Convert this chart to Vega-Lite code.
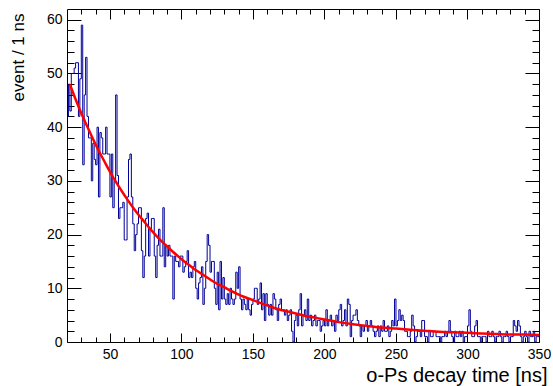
{
"$schema": "https://vega.github.io/schema/vega-lite/v6.json",
"width": 472, "height": 333,
"autosize": {"type": "none"},
"padding": {"left": 67, "top": 9, "right": 14, "bottom": 44},
"background": "white",
"config": {
  "view": {"stroke": "black", "strokeWidth": 1},
  "axis": {"grid": false, "domain": false, "labelFont": "Liberation Sans", "labelFontSize": 14, "labelColor": "black", "tickColor": "black", "tickWidth": 1, "titleFont": "Liberation Sans", "titleFontWeight": "normal", "titleColor": "black", "labelFlush": false, "labelOverlap": false}
},
"datasets": {
"hist": [
{"t":20,"n":42},{"t":21,"n":48},{"t":22,"n":43},{"t":23,"n":50},{"t":24,"n":50},{"t":25,"n":51},{"t":26,"n":52},{"t":27,"n":52},{"t":28,"n":42},{"t":29,"n":49},
{"t":30,"n":59},{"t":31,"n":33},{"t":32,"n":46},{"t":33,"n":53},{"t":34,"n":42},{"t":35,"n":38},{"t":36,"n":38},{"t":37,"n":30},{"t":38,"n":37},{"t":39,"n":34},
{"t":40,"n":33},{"t":41,"n":40},{"t":42,"n":27},{"t":43,"n":39},{"t":44,"n":38},{"t":45,"n":35},{"t":46,"n":35},{"t":47,"n":40},{"t":48,"n":35},{"t":49,"n":35},
{"t":50,"n":27},{"t":51,"n":35},{"t":52,"n":25},{"t":53,"n":30},{"t":54,"n":46},{"t":55,"n":31},{"t":56,"n":23},{"t":57,"n":25},{"t":58,"n":25},{"t":59,"n":26},
{"t":60,"n":19},{"t":61,"n":19},{"t":62,"n":27},{"t":63,"n":34},{"t":64,"n":35},{"t":65,"n":27},{"t":66,"n":22},{"t":67,"n":17},{"t":68,"n":20},{"t":69,"n":22},
{"t":70,"n":25},{"t":71,"n":25},{"t":72,"n":17},{"t":73,"n":12},{"t":74,"n":16},{"t":75,"n":23},{"t":76,"n":24},{"t":77,"n":16},{"t":78,"n":21},{"t":79,"n":23},
{"t":80,"n":23},{"t":81,"n":16},{"t":82,"n":12},{"t":83,"n":18},{"t":84,"n":21},{"t":85,"n":16},{"t":86,"n":16},{"t":87,"n":25},{"t":88,"n":14},{"t":89,"n":18},
{"t":90,"n":16},{"t":91,"n":18},{"t":92,"n":16},{"t":93,"n":16},{"t":94,"n":8},{"t":95,"n":16},{"t":96,"n":15},{"t":97,"n":15},{"t":98,"n":14},{"t":99,"n":16},
{"t":100,"n":16},{"t":101,"n":13},{"t":102,"n":14},{"t":103,"n":15},{"t":104,"n":17},{"t":105,"n":12},{"t":106,"n":13},{"t":107,"n":12},{"t":108,"n":14},{"t":109,"n":15},
{"t":110,"n":10},{"t":111,"n":8},{"t":112,"n":11},{"t":113,"n":12},{"t":114,"n":14},{"t":115,"n":7},{"t":116,"n":10},{"t":117,"n":15},{"t":118,"n":20},{"t":119,"n":18},
{"t":120,"n":13},{"t":121,"n":15},{"t":122,"n":15},{"t":123,"n":10},{"t":124,"n":7},{"t":125,"n":13},{"t":126,"n":6},{"t":127,"n":15},{"t":128,"n":8},{"t":129,"n":12},
{"t":130,"n":8},{"t":131,"n":7},{"t":132,"n":9},{"t":133,"n":7},{"t":134,"n":10},{"t":135,"n":8},{"t":136,"n":7},{"t":137,"n":8},{"t":138,"n":13},{"t":139,"n":10},
{"t":140,"n":14},{"t":141,"n":8},{"t":142,"n":6},{"t":143,"n":8},{"t":144,"n":7},{"t":145,"n":6},{"t":146,"n":8},{"t":147,"n":6},{"t":148,"n":5},{"t":149,"n":7},
{"t":150,"n":8},{"t":151,"n":10},{"t":152,"n":10},{"t":153,"n":7},{"t":154,"n":8},{"t":155,"n":11},{"t":156,"n":6},{"t":157,"n":9},{"t":158,"n":4},{"t":159,"n":9},
{"t":160,"n":7},{"t":161,"n":5},{"t":162,"n":7},{"t":163,"n":5},{"t":164,"n":9},{"t":165,"n":8},{"t":166,"n":6},{"t":167,"n":4},{"t":168,"n":7},{"t":169,"n":8},
{"t":170,"n":6},{"t":171,"n":6},{"t":172,"n":5},{"t":173,"n":6},{"t":174,"n":4},{"t":175,"n":5},{"t":176,"n":6},{"t":177,"n":2},{"t":178,"n":0},{"t":179,"n":4},
{"t":180,"n":5},{"t":181,"n":3},{"t":182,"n":6},{"t":183,"n":9},{"t":184,"n":3},{"t":185,"n":5},{"t":186,"n":6},{"t":187,"n":4},{"t":188,"n":8},{"t":189,"n":4},
{"t":190,"n":5},{"t":191,"n":3},{"t":192,"n":4},{"t":193,"n":5},{"t":194,"n":3},{"t":195,"n":4},{"t":196,"n":4},{"t":197,"n":2},{"t":198,"n":3},{"t":199,"n":4},
{"t":200,"n":3},{"t":201,"n":6},{"t":202,"n":3},{"t":203,"n":4},{"t":204,"n":5},{"t":205,"n":3},{"t":206,"n":4},{"t":207,"n":2},{"t":208,"n":5},{"t":209,"n":4},
{"t":210,"n":6},{"t":211,"n":7},{"t":212,"n":3},{"t":213,"n":4},{"t":214,"n":6},{"t":215,"n":3},{"t":216,"n":8},{"t":217,"n":7},{"t":218,"n":1},{"t":219,"n":4},
{"t":220,"n":5},{"t":221,"n":5},{"t":222,"n":6},{"t":223,"n":4},{"t":224,"n":3},{"t":225,"n":1},{"t":226,"n":3},{"t":227,"n":2},{"t":228,"n":3},{"t":229,"n":4},
{"t":230,"n":2},{"t":231,"n":3},{"t":232,"n":4},{"t":233,"n":3},{"t":234,"n":2},{"t":235,"n":1},{"t":236,"n":2},{"t":237,"n":3},{"t":238,"n":1},{"t":239,"n":3},
{"t":240,"n":2},{"t":241,"n":4},{"t":242,"n":2},{"t":243,"n":2},{"t":244,"n":3},{"t":245,"n":1},{"t":246,"n":2},{"t":247,"n":4},{"t":248,"n":3},{"t":249,"n":8},
{"t":250,"n":3},{"t":251,"n":4},{"t":252,"n":6},{"t":253,"n":4},{"t":254,"n":5},{"t":255,"n":4},{"t":256,"n":2},{"t":257,"n":2},{"t":258,"n":1},{"t":259,"n":1},
{"t":260,"n":2},{"t":261,"n":5},{"t":262,"n":3},{"t":263,"n":0},{"t":264,"n":1},{"t":265,"n":2},{"t":266,"n":2},{"t":267,"n":1},{"t":268,"n":4},{"t":269,"n":4},
{"t":270,"n":1},{"t":271,"n":1},{"t":272,"n":0},{"t":273,"n":2},{"t":274,"n":1},{"t":275,"n":1},{"t":276,"n":2},{"t":277,"n":2},{"t":278,"n":1},{"t":279,"n":1},
{"t":280,"n":1},{"t":281,"n":0},{"t":282,"n":1},{"t":283,"n":1},{"t":284,"n":2},{"t":285,"n":1},{"t":286,"n":2},{"t":287,"n":4},{"t":288,"n":2},{"t":289,"n":1},
{"t":290,"n":0},{"t":291,"n":2},{"t":292,"n":1},{"t":293,"n":1},{"t":294,"n":2},{"t":295,"n":1},{"t":296,"n":2},{"t":297,"n":0},{"t":298,"n":1},{"t":299,"n":1},
{"t":300,"n":3},{"t":301,"n":6},{"t":302,"n":2},{"t":303,"n":1},{"t":304,"n":1},{"t":305,"n":3},{"t":306,"n":4},{"t":307,"n":1},{"t":308,"n":1},{"t":309,"n":0},
{"t":310,"n":1},{"t":311,"n":1},{"t":312,"n":1},{"t":313,"n":0},{"t":314,"n":2},{"t":315,"n":1},{"t":316,"n":1},{"t":317,"n":2},{"t":318,"n":1},{"t":319,"n":0},
{"t":320,"n":1},{"t":321,"n":1},{"t":322,"n":2},{"t":323,"n":1},{"t":324,"n":0},{"t":325,"n":1},{"t":326,"n":1},{"t":327,"n":2},{"t":328,"n":1},{"t":329,"n":0},
{"t":330,"n":1},{"t":331,"n":1},{"t":332,"n":4},{"t":333,"n":3},{"t":334,"n":2},{"t":335,"n":4},{"t":336,"n":3},{"t":337,"n":1},{"t":338,"n":0},{"t":339,"n":1},
{"t":340,"n":2},{"t":341,"n":1},{"t":342,"n":0},{"t":343,"n":2},{"t":344,"n":1},{"t":345,"n":1},{"t":346,"n":2},{"t":347,"n":0},{"t":348,"n":1},{"t":349,"n":1},
{"t":350,"n":1}
],
"fit": [
{"t":22,"f":48.0},{"t":26,"f":45.2},{"t":30,"f":42.6},{"t":34,"f":40.2},{"t":38,"f":37.9},{"t":42,"f":35.7},{"t":46,"f":33.7},{"t":50,"f":31.7},{"t":54,"f":29.9},{"t":58,"f":28.2},
{"t":62,"f":26.6},{"t":66,"f":25.1},{"t":70,"f":23.7},{"t":74,"f":22.4},{"t":78,"f":21.1},{"t":82,"f":19.9},{"t":86,"f":18.8},{"t":90,"f":17.8},{"t":94,"f":16.8},{"t":98,"f":15.9},
{"t":102,"f":15.0},{"t":106,"f":14.2},{"t":110,"f":13.4},{"t":114,"f":12.7},{"t":118,"f":12.0},{"t":122,"f":11.3},{"t":126,"f":10.7},{"t":130,"f":10.2},{"t":134,"f":9.6},{"t":138,"f":9.1},
{"t":142,"f":8.6},{"t":146,"f":8.2},{"t":150,"f":7.8},{"t":156,"f":7.2},{"t":162,"f":6.6},{"t":168,"f":6.1},{"t":174,"f":5.7},{"t":180,"f":5.3},{"t":186,"f":4.9},{"t":192,"f":4.6},
{"t":198,"f":4.3},{"t":204,"f":4.0},{"t":210,"f":3.7},{"t":220,"f":3.3},{"t":230,"f":3.0},{"t":240,"f":2.7},{"t":250,"f":2.5},{"t":260,"f":2.3},{"t":270,"f":2.1},{"t":280,"f":1.9},
{"t":290,"f":1.8},{"t":300,"f":1.7},{"t":310,"f":1.6},{"t":320,"f":1.5},{"t":330,"f":1.4},{"t":340,"f":1.4},{"t":350,"f":1.3}
]
},
"layer": [
{
 "data": {"name": "hist"},
 "mark": {"type": "line", "interpolate": "step-after", "color": "#000099", "strokeWidth": 1},
 "encoding": {
  "x": {"field": "t", "type": "quantitative", "scale": {"domain": [20, 350], "nice": false, "zero": false},
        "axis": {"orient": "bottom", "values": [50,100,150,200,250,300,350], "tickSize": -9, "labelPadding": 14, "title": "o-Ps decay time [ns]", "titleFontSize": 20, "titleAnchor": "end", "titleAlign": "right", "titleBaseline": "alphabetic", "titleX": 480, "titleY": 39}},
  "y": {"field": "n", "type": "quantitative", "scale": {"domain": [0, 62], "nice": false, "zero": true},
        "axis": {"orient": "left", "values": [0,10,20,30,40,50,60], "tickSize": -14, "labelPadding": 19, "title": "event / 1 ns", "titleFontSize": 17, "titleAnchor": "end", "titleAlign": "right", "titleBaseline": "middle", "titleX": -49, "titleY": 4}}
 }
},
{
 "data": {"name": "fit"},
 "mark": {"type": "line", "color": "#ff0000", "strokeWidth": 2.5, "interpolate": "monotone"},
 "encoding": {
  "x": {"field": "t", "type": "quantitative", "scale": {"domain": [20, 350], "nice": false, "zero": false},
        "axis": {"orient": "top", "values": [50,100,150,200,250,300,350], "tickSize": -10, "labels": false, "title": null}},
  "y": {"field": "f", "type": "quantitative", "scale": {"domain": [0, 62], "nice": false, "zero": true},
        "axis": {"orient": "right", "values": [0,10,20,30,40,50,60], "tickSize": -14, "labels": false, "title": null}}
 }
},
{
 "data": {"name": "fit"},
 "mark": {"type": "line", "opacity": 0},
 "encoding": {
  "x": {"field": "t", "type": "quantitative", "scale": {"domain": [20, 350], "nice": false, "zero": false},
        "axis": {"orient": "bottom", "values": [30,40,60,70,80,90,110,120,130,140,160,170,180,190,210,220,230,240,260,270,280,290,310,320,330,340], "tickSize": -5, "labels": false, "title": null}},
  "y": {"field": "f", "type": "quantitative", "scale": {"domain": [0, 62], "nice": false, "zero": true},
        "axis": {"orient": "left", "values": [2,4,6,8,12,14,16,18,22,24,26,28,32,34,36,38,42,44,46,48,52,54,56,58], "tickSize": -7, "labels": false, "title": null}}
 }
},
{
 "data": {"name": "fit"},
 "mark": {"type": "line", "opacity": 0},
 "encoding": {
  "x": {"field": "t", "type": "quantitative", "scale": {"domain": [20, 350], "nice": false, "zero": false},
        "axis": {"orient": "top", "values": [30,40,60,70,80,90,110,120,130,140,160,170,180,190,210,220,230,240,260,270,280,290,310,320,330,340], "tickSize": -5, "labels": false, "title": null}},
  "y": {"field": "f", "type": "quantitative", "scale": {"domain": [0, 62], "nice": false, "zero": true},
        "axis": {"orient": "right", "values": [2,4,6,8,12,14,16,18,22,24,26,28,32,34,36,38,42,44,46,48,52,54,56,58], "tickSize": -7, "labels": false, "title": null}}
 }
}
],
"resolve": {"axis": {"x": "independent", "y": "independent"}}
}
